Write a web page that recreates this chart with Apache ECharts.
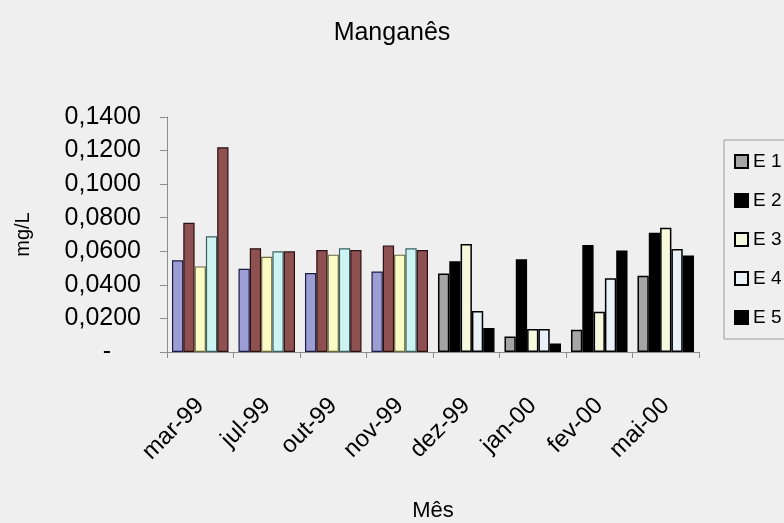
<!DOCTYPE html>
<html>
<head>
<meta charset="utf-8">
<script src="https://cdn.jsdelivr.net/npm/echarts@6/dist/echarts.min.js"></script>
<style>
  html, body { margin: 0; padding: 0; background: #efefef; }
  #main { width: 784px; height: 523px; }
</style>
</head>
<body>
<div id="main"></div>
<script>
// data
const months = ['mar-99', 'jul-99', 'out-99', 'nov-99', 'dez-99', 'jan-00', 'fev-00', 'mai-00'];
const e1 = [0.0547, 0.0496, 0.0470, 0.0480, 0.0467, 0.0092, 0.0133, 0.0455];
const e2 = [0.0770, 0.0618, 0.0608, 0.0635, 0.0540, 0.0553, 0.0637, 0.0710];
const e3 = [0.0510, 0.0567, 0.0580, 0.0580, 0.0643, 0.0137, 0.0240, 0.0740];
const e4 = [0.0690, 0.0600, 0.0618, 0.0618, 0.0245, 0.0137, 0.0440, 0.0613];
const e5 = [0.1220, 0.0600, 0.0608, 0.0608, 0.0143, 0.0050, 0.0604, 0.0575];
const seriesNames = ['E 1', 'E 2', 'E 3', 'E 4', 'E 5'];

// first four months were printed in colour, the rest in black & white
const colourStyle = [
  { color: '#9d9dd6', borderColor: '#1c1c44' },
  { color: '#8e5050', borderColor: '#2a1010' },
  { color: '#fbfbc6', borderColor: '#6a6a40' },
  { color: '#cdf3f3', borderColor: '#3d6060' },
  { color: '#8e5050', borderColor: '#2a1010' }
];
const bwStyle = [
  { color: '#a5a5a5', borderColor: '#000' },
  { color: '#000000', borderColor: '#000' },
  { color: '#f6f9de', borderColor: '#000' },
  { color: '#eaf2f8', borderColor: '#000' },
  { color: '#000000', borderColor: '#000' }
];

const font = 'Liberation Sans, Arial, sans-serif';

function makeSeries(name, values, idx) {
  return {
    name: name,
    type: 'bar',
    barGap: '0%',
    barCategoryGap: '15%',
    itemStyle: Object.assign({ borderWidth: 1.5 }, bwStyle[idx]),
    data: values.map((v, i) => i < 4
      ? { value: v, itemStyle: Object.assign({ borderWidth: 1.2 }, colourStyle[idx]) }
      : v)
  };
}

const chart = echarts.init(document.getElementById('main'));
chart.setOption({
  backgroundColor: '#efefef',
  animation: false,
  textStyle: { fontFamily: font },
  title: {
    text: 'Manganês',
    left: 'center',
    top: 16,
    textStyle: { fontFamily: font, fontSize: 25, fontWeight: 'normal', color: '#000' }
  },
  legend: {
    orient: 'vertical',
    left: 724,
    top: 140,
    padding: [12, 10, 12, 10],
    borderColor: '#9a9a9a',
    borderWidth: 1,
    itemWidth: 13,
    itemHeight: 13,
    itemGap: 20,
    icon: 'rect',
    textStyle: { fontFamily: font, fontSize: 19, color: '#000' },
    data: seriesNames
  },
  grid: { left: 167, right: 85, top: 117, bottom: 168 },
  xAxis: {
    type: 'category',
    data: months,
    name: 'Mês',
    nameLocation: 'middle',
    nameGap: 148,
    nameTextStyle: { fontFamily: font, fontSize: 22, color: '#000' },
    axisLine: { lineStyle: { color: '#8c8c8c' } },
    axisTick: { show: true, alignWithLabel: false, length: 6, lineStyle: { color: '#8c8c8c' } },
    axisLabel: {
      rotate: 45,
      margin: 50,
      interval: 0,
      fontFamily: font,
      fontSize: 24,
      color: '#000'
    }
  },
  yAxis: {
    type: 'value',
    min: 0,
    max: 0.14,
    interval: 0.02,
    name: 'mg/L',
    nameLocation: 'middle',
    nameGap: 134,
    nameRotate: 90,
    nameTextStyle: { fontFamily: font, fontSize: 20, color: '#000' },
    axisLine: { show: true, lineStyle: { color: '#8c8c8c' } },
    axisTick: { show: true, length: 7, lineStyle: { color: '#8c8c8c' } },
    splitLine: { show: false },
    axisLabel: {
      margin: 26,
      fontFamily: font,
      fontSize: 25,
      color: '#000',
      formatter: v => v === 0 ? '{z|-}' : v.toFixed(4).replace('.', ','),
      rich: { z: { fontFamily: font, fontSize: 25, color: '#000', padding: [0, 30, 0, 0] } }
    }
  },
  series: [
    makeSeries(seriesNames[0], e1, 0),
    makeSeries(seriesNames[1], e2, 1),
    makeSeries(seriesNames[2], e3, 2),
    makeSeries(seriesNames[3], e4, 3),
    makeSeries(seriesNames[4], e5, 4)
  ]
});
</script>
</body>
</html>
